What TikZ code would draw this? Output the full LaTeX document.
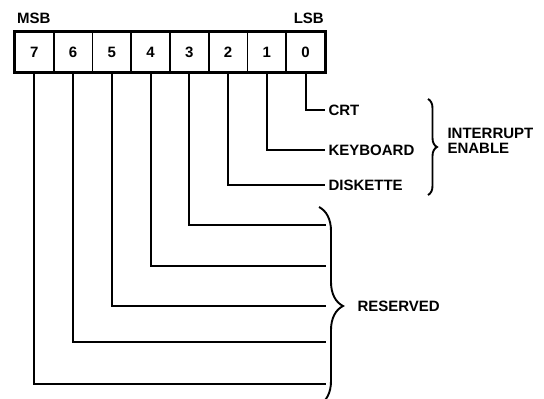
\documentclass[tikz,border=0pt]{standalone}
\usepackage{fontspec}
\setsansfont{Liberation Sans}
\usetikzlibrary{positioning,decorations.pathreplacing,calc}

\begin{document}
\begin{tikzpicture}[x=1pt,y=-1pt,
    cell/.style={draw,line width=1.6pt,minimum width=38.75pt,minimum height=40pt,inner sep=0pt,font=\sffamily\bfseries\fontsize{15}{15}\selectfont},
    lbl/.style={anchor=west,font=\sffamily\bfseries\fontsize{15}{15}\selectfont},
    wire/.style={line width=1.8pt},
    bracket/.style={line width=1.9pt,decorate,decoration={brace,amplitude=#1}}]
  \useasboundingbox (0,0) rectangle (544,399);
  \clip (0,0) rectangle (544,399);
  % register bits, MSB on the left
  \foreach \b in {7,...,0}
    \node[cell] (b\b) at ({34.375+38.75*(7-\b)},52) {\b};
  \draw[line width=3pt] (b7.north west) rectangle (b0.south east);
  \node[lbl,anchor=base west,inner sep=0pt] (msb) at (17,23) {MSB};
  \node[lbl,anchor=base east,inner sep=0pt] (lsb) at (324,23) {LSB};
  % interrupt enable bits
  \node[lbl] (crt) at (325,110) {CRT};
  \node[lbl] (kbd) at (325,150) {KEYBOARD};
  \node[lbl] (dsk) at (325,185) {DISKETTE};
  \draw[wire] (b0.south) |- (crt.west);
  \draw[wire] (b1.south) |- (kbd.west);
  \draw[wire] (b2.south) |- (dsk.west);
  \coordinate (ie top) at (428,99);
  \coordinate (ie bot) at (428,195);
  \draw[bracket=9pt] (ie top) -- (ie bot);
  \node[lbl,align=left] (ie) at (444,141) {INTERRUPT\\ENABLE};
  % reserved bits
  \foreach \b/\y in {3/225,4/266,5/306,6/342,7/384} {
    \coordinate (r\b) at (326,\y);
    \draw[wire] (b\b.south) |- (r\b);
  }
  \coordinate (rs top) at (319,207);
  \coordinate (rs bot) at (319,405);
  \draw[bracket=24pt] (rs top) -- (rs bot);
  \node[lbl] (rsv) at (354,306) {RESERVED};
\end{tikzpicture}
\end{document}
